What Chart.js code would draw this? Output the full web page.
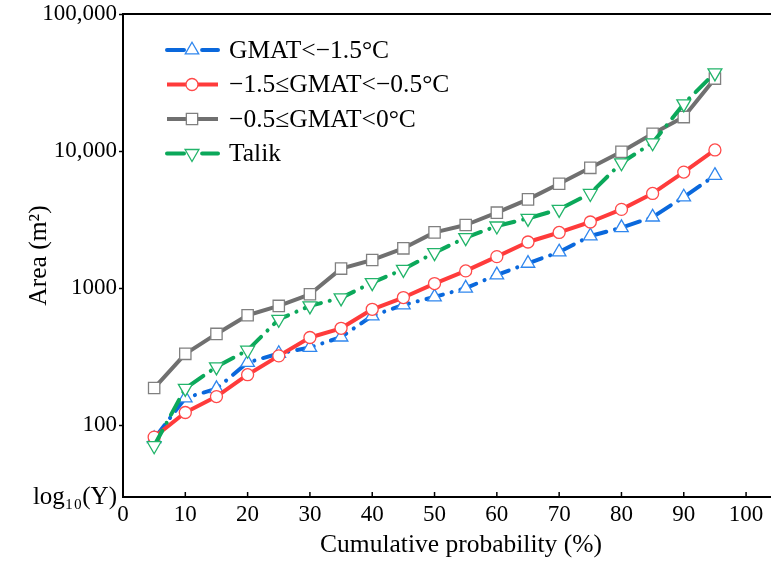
<!DOCTYPE html>
<html>
<head>
<meta charset="utf-8">
<script src="https://cdn.jsdelivr.net/npm/chart.js@4/dist/chart.umd.min.js"></script>
<style>
  html, body { margin: 0; padding: 0; background: #fff; }
  #wrap { width: 771px; height: 562px; position: relative; }
</style>
</head>
<body>
<div id="wrap"><canvas id="c" width="771" height="562"></canvas></div>
<script>
// ---- data ----
const probabilities = [5, 10, 15, 20, 25, 30, 35, 40, 45, 50, 55, 60, 65, 70, 75, 80, 85, 90, 95];
const seriesLabels = ['GMAT<\u22121.5\u00B0C', '\u22121.5\u2264GMAT<\u22120.5\u00B0C', '\u22120.5\u2264GMAT<0\u00B0C', 'Talik'];
const areaColdest = [80, 158, 185, 287, 334, 369, 440, 628, 755, 864, 1000, 1250, 1518, 1837, 2404, 2763, 3300, 4624, 6640];
const areaCold = [82, 124, 162, 234, 321, 437, 510, 702, 855, 1081, 1337, 1700, 2173, 2550, 3040, 3757, 4910, 7030, 10200];
const areaWarm = [187, 332, 464, 635, 743, 903, 1390, 1607, 1954, 2554, 2891, 3556, 4446, 5780, 7550, 9880, 13370, 17700, 33800];
const areaTalik = [71, 186, 267, 353, 593, 743, 850, 1099, 1373, 1816, 2337, 2843, 3230, 3757, 4910, 8220, 11500, 22100, 37200];
const xTickValues = [0, 10, 20, 30, 40, 50, 60, 70, 80, 90, 100];
const yTickValues = [30, 100, 1000, 10000, 100000];
const yTickLabels = ['log\u2081\u2080(Y)', '100', '1000', '10,000', '100,000'];
const xTitle = 'Cumulative probability (%)';
const yTitle = 'Area (m\u00B2)';

const FONT = "'Liberation Serif', 'Times New Roman', serif";

function pts(arr) { return probabilities.map((p, i) => ({ x: p, y: arr[i] })); }

const styles = [
  { line: '#0A68DC', pt: '#2F86EE', style: 'triangle', rot: 0, r: 7.8, dash: [17, 9, 0.1, 9] },
  { line: '#FF3B3B', pt: '#FF4A4A', style: 'circle', rot: 0, r: 6, dash: [] },
  { line: '#707070', pt: '#808080', style: 'rect', rot: 0, r: 8, dash: [] },
  { line: '#0BA85A', pt: '#22B46A', style: 'triangle', rot: 180, r: 8, dash: [17, 9, 0.1, 9] }
];
const seriesData = [areaColdest, areaCold, areaWarm, areaTalik];

const datasets = seriesData.map((arr, i) => ({
  label: seriesLabels[i],
  data: pts(arr),
  borderColor: styles[i].line,
  borderWidth: 4,
  borderDash: styles[i].dash,
  borderCapStyle: styles[i].dash.length ? 'round' : 'butt',
  borderJoinStyle: 'round',
  tension: 0,
  pointStyle: styles[i].style,
  pointRotation: styles[i].rot,
  pointRadius: styles[i].r,
  pointBorderWidth: 1.3,
  pointBorderColor: styles[i].pt,
  pointBackgroundColor: '#ffffff',
  order: [2, 1, 3, 0][i]
}));

const framePlugin = {
  id: 'frame',
  afterDraw(chart) {
    const ctx = chart.ctx;
    const a = chart.chartArea;
    const xs = chart.scales.x;
    ctx.save();
    // top frame line
    ctx.strokeStyle = '#000';
    ctx.lineWidth = 2;
    ctx.beginPath();
    ctx.moveTo(a.left - 1, a.top);
    ctx.lineTo(a.right + 2, a.top);
    ctx.stroke();
    // inward x ticks
    ctx.lineWidth = 1.5;
    xs.ticks.forEach(t => {
      const px = xs.getPixelForValue(t.value);
      ctx.beginPath();
      ctx.moveTo(px, a.bottom);
      ctx.lineTo(px, a.bottom - 5);
      ctx.stroke();
    });
    // x axis title
    ctx.fillStyle = '#000';
    ctx.font = '25.5px ' + FONT;
    ctx.textAlign = 'center';
    ctx.textBaseline = 'middle';
    ctx.fillText(xTitle, 461, 545);
    // legend
    const lx0 = 167, lx1 = 218, mx = 192, tx = 229;
    const ys = [50, 84.5, 119, 153.5];
    chart.data.datasets.forEach((ds, i) => {
      const y = ys[i];
      ctx.save();
      ctx.strokeStyle = ds.borderColor;
      ctx.lineWidth = 4;
      ctx.setLineDash(ds.borderDash || []);
      ctx.lineCap = ds.borderCapStyle;
      ctx.beginPath();
      ctx.moveTo(lx0, y);
      ctx.lineTo(lx1, y);
      ctx.stroke();
      ctx.setLineDash([]);
      ctx.fillStyle = '#fff';
      ctx.strokeStyle = ds.pointBorderColor;
      ctx.lineWidth = ds.pointBorderWidth;
      Chart.helpers.drawPoint(ctx, {
        pointStyle: ds.pointStyle, radius: ds.pointRadius,
        rotation: ds.pointRotation, borderWidth: ds.pointBorderWidth
      }, mx, y);
      ctx.restore();
      ctx.fillStyle = '#000';
      ctx.font = '25.5px ' + FONT;
      ctx.textBaseline = 'middle';
      ctx.textAlign = 'left';
      ctx.fillText(ds.label, tx, y + 1);
    });
    ctx.restore();
  }
};

new Chart(document.getElementById('c'), {
  type: 'line',
  data: { datasets },
  options: {
    responsive: false,
    animation: false,
    devicePixelRatio: 1,
    layout: { autoPadding: false, padding: { top: 14, right: 0, left: 0, bottom: 0 } },
    plugins: { legend: { display: false }, tooltip: { enabled: false } },
    scales: {
      x: {
        type: 'linear',
        min: 0, max: 104,
        afterBuildTicks(s) { s.ticks = xTickValues.map(v => ({ value: v })); },
        afterFit(s) { s.height = 65; s.paddingLeft = 0; s.paddingRight = 0; },
        grid: { display: true, drawOnChartArea: false, drawTicks: false },
        border: { display: true, color: '#000', width: 2 },
        ticks: { color: '#000', font: { family: FONT, size: 23 }, padding: 4, maxRotation: 0, autoSkip: false },
        title: { display: false }
      },
      y: {
        type: 'logarithmic',
        min: 30, max: 100000,
        afterBuildTicks(s) { s.ticks = yTickValues.map(v => ({ value: v, major: true })); },
        afterFit(s) { s.width = 123; s.paddingTop = 0; s.paddingBottom = 0; },
        grid: {
          display: true, drawOnChartArea: false, drawTicks: true, tickLength: 4,
          tickWidth: 1.5,
          tickColor: (c) => (c.index === 0 ? 'rgba(0,0,0,0)' : '#000')
        },
        border: { display: true, color: '#000', width: 2 },
        ticks: {
          color: '#000',
          font: (c) => ({ family: FONT, size: c.index === 0 ? 25 : 23 }),
          padding: 2, autoSkip: false,
          callback: (v, i) => yTickLabels[i]
        },
        title: { display: true, text: yTitle, color: '#000', font: { family: FONT, size: 25.5 }, padding: { top: 24, bottom: 0 } }
      }
    }
  },
  plugins: [framePlugin]
});
</script>
</body>
</html>
